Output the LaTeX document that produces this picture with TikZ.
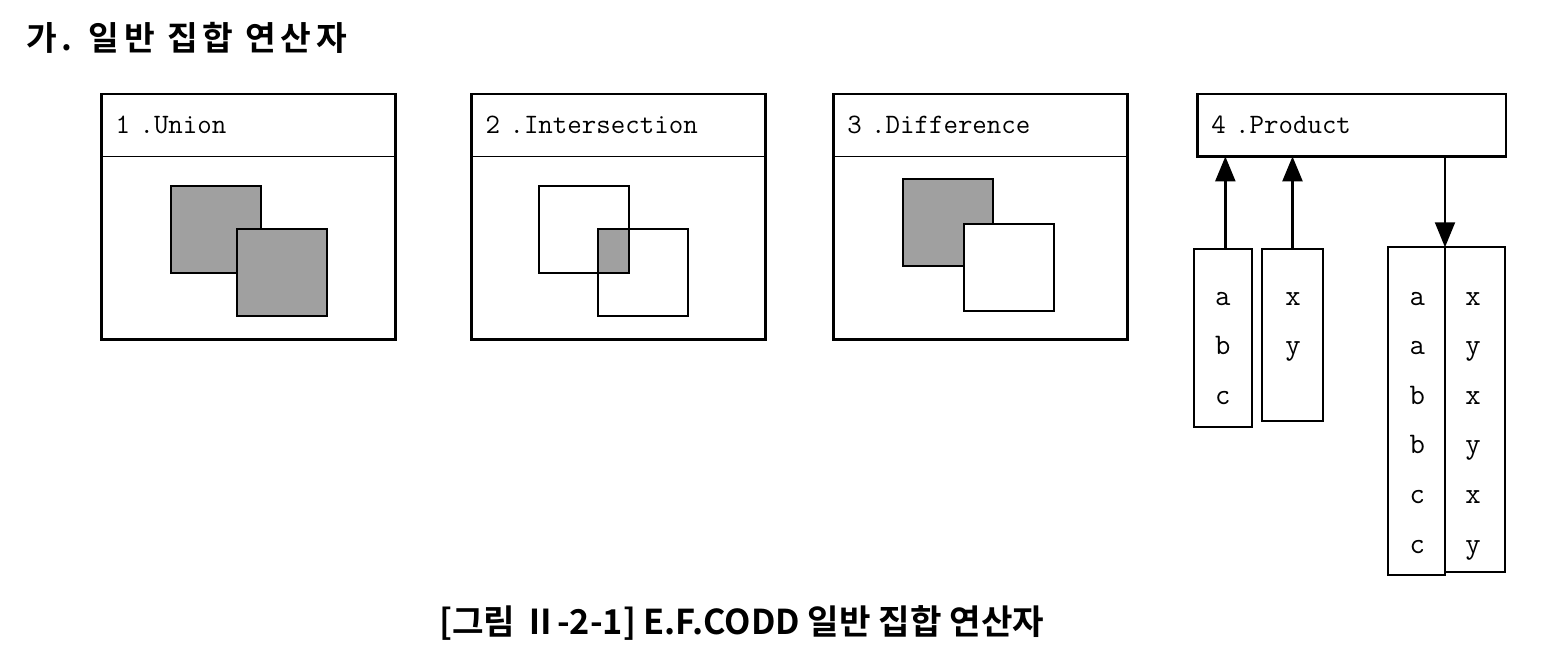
\documentclass[tikz,border=0pt]{standalone}
\usepackage{fontspec}
\usetikzlibrary{positioning, arrows.meta}
\newfontfamily\krtitle[LetterSpace=14]{Noto Sans CJK KR Bold}
\newfontfamily\krcaption{Noto Sans CJK KR Bold}
\definecolor{setgray}{RGB}{160,160,160}

\begin{document}
\begin{tikzpicture}[
        x=0.02cm, y=-0.02cm,
        head/.style={draw, rectangle, line width=0.9pt, outer sep=0pt, anchor=north west, minimum width=5.88cm, minimum height=1.25cm, inner xsep=0.28cm, text width=5.32cm, align=left, font=\fontsize{16}{19}\ttfamily},
        body/.style={draw, rectangle, line width=0.9pt, outer sep=0pt, minimum width=5.88cm, minimum height=3.66cm},
        frame/.style={line width=1.6pt},
        square/.style={draw, rectangle, line width=1.1pt, anchor=north west, inner sep=0pt, outer sep=0pt, minimum width=1.8cm, minimum height=1.74cm},
        column/.style={draw, rectangle, line width=1.1pt, anchor=north west, inner sep=0pt, outer sep=0pt},
        cell/.style={anchor=base, inner sep=0pt, font=\fontsize{17}{20}\ttfamily},
        link/.style={line width=1.5pt, -{Triangle[length=0.5cm, width=0.4cm]}}
    ]
        \useasboundingbox (0,0) rectangle (1552,662);

        % Titles
        \node[anchor=west, inner sep=0pt, font=\fontsize{19}{23}\krtitle] (title) at (26,38) {가. 일반 집합 연산자};
        \node[inner sep=0pt, font=\fontsize{19.5}{23}\krcaption] (caption) at (741.7,623) {[그림 Ⅱ-2-1] E.F.CODD 일반 집합 연산자};

        % Union
        \node[head] (uHead) at (101.7,94) {1 .Union};
        \node[body, below=0pt of uHead] (uBody) {};
        \draw[frame] (uHead.north west) rectangle (uBody.south east);
        \node[square, fill=setgray] (uA) at (170.7,186) {};
        \node[square, fill=setgray] (uB) at (236.7,229.3) {};

        % Intersection
        \node[head] (iHead) at (471.7,94) {2 .Intersection};
        \node[body, below=0pt of iHead] (iBody) {};
        \draw[frame] (iHead.north west) rectangle (iBody.south east);
        \node[square] (iA) at (539,186) {};
        \node[square] (iB) at (598.3,229.3) {};
        \filldraw[fill=setgray, line width=1.1pt] (iB.north west) rectangle (iA.south east);

        % Difference
        \node[head] (dHead) at (833.3,94) {3 .Difference};
        \node[body, below=0pt of dHead] (dBody) {};
        \draw[frame] (dHead.north west) rectangle (dBody.south east);
        \node[square, fill=setgray] (dA) at (903.3,179) {};
        \node[square, fill=white] (dB) at (964.3,224.3) {};

        % Product
        \node[head, line width=1.6pt, minimum width=6.174cm, text width=5.614cm] (prod) at (1197.3,94) {4 .Product};
        \node[column, minimum width=1.154cm, minimum height=3.56cm] (colA) at (1194,249.3) {};
        \node[column, minimum width=1.208cm, minimum height=3.428cm] (colX) at (1262.3,249.3) {};
        \node[column, minimum width=1.2cm, minimum height=6.5cm] (pR) at (1445,247.3) {};
        \node[column, minimum width=1.134cm, minimum height=6.554cm] (pL) at (1388.3,247.3) {};

        \foreach \v [count=\i] in {a,b,c}
            \node[cell] (ca\i) at (1222.8,{305+49.6*(\i-1)}) {\v};
        \foreach \v [count=\i] in {x,y}
            \node[cell] (cx\i) at (1293,{305+49.6*(\i-1)}) {\v};
        \foreach \v [count=\i] in {a,a,b,b,c,c}
            \node[cell] (pl\i) at (1417.3,{305+49.6*(\i-1)}) {\v};
        \foreach \v [count=\i] in {x,y,x,y,x,y}
            \node[cell] (pr\i) at (1473,{305+49.6*(\i-1)}) {\v};

        % Edges
        \draw[link] ([xshift=0.05cm]colA.north) -- ([xshift=0.05cm]colA.north |- prod.south);
        \draw[link] (colX.north) -- (colX.north |- prod.south);
        \draw[link, line width=1.1pt] (pL.north east |- prod.south) -- (pL.north east);
    \end{tikzpicture}
\end{document}
